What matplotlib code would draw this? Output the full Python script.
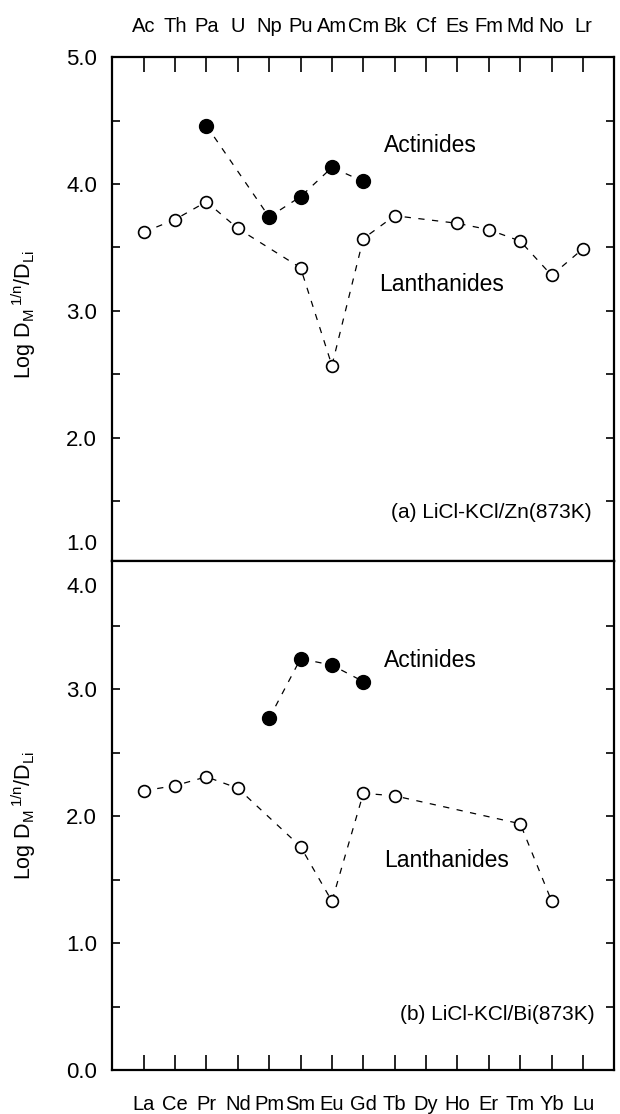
import matplotlib.pyplot as plt
import numpy as np

plt.rcParams['font.family'] = ['Liberation Sans', 'DejaVu Sans']
plt.rcParams['mathtext.fontset'] = 'custom'
plt.rcParams['mathtext.rm'] = 'Liberation Sans'
plt.rcParams['mathtext.it'] = 'Liberation Sans'
plt.rcParams['mathtext.bf'] = 'Liberation Sans:bold'

nan = np.nan
lanthanides = ['La', 'Ce', 'Pr', 'Nd', 'Pm', 'Sm', 'Eu', 'Gd', 'Tb', 'Dy',
               'Ho', 'Er', 'Tm', 'Yb', 'Lu']
actinides = ['Ac', 'Th', 'Pa', 'U', 'Np', 'Pu', 'Am', 'Cm', 'Bk', 'Cf',
             'Es', 'Fm', 'Md', 'No', 'Lr']

# (a) LiCl-KCl/Zn (873K)
zn_ln = [3.62, 3.72, 3.86, 3.65, nan, 3.34, 2.57, 3.57, 3.75, nan,
         3.69, 3.64, 3.55, 3.28, 3.49]
zn_an = [nan, nan, 4.46, nan, 3.74, 3.90, 4.13, 4.02, nan, nan,
         nan, nan, nan, nan, nan]
# (b) LiCl-KCl/Bi (873K)
bi_ln = [2.20, 2.24, 2.31, 2.22, nan, 1.76, 1.33, 2.18, 2.16, nan,
         nan, nan, 1.94, 1.33, nan]
bi_an = [nan, nan, nan, nan, 2.77, 3.24, 3.19, 3.06, nan, nan,
         nan, nan, nan, nan, nan]

ylab = r'Log D$_\mathrm{M}$$^{\mathrm{\,1/n}}$/D$_\mathrm{Li}$'
x = np.arange(len(lanthanides))

fig = plt.figure(figsize=(6.2, 11.14), dpi=100)
ax1 = fig.add_axes([0.181, 0.4964, 0.81, 0.4524])
ax2 = fig.add_axes([0.181, 0.0395, 0.81, 0.4569])


def draw(ax, ln, an):
    ln = np.array(ln)
    an = np.array(an)
    m = ~np.isnan(ln)
    ax.plot(x[m], ln[m], ls=(0, (5, 6)), lw=0.9, color='black', marker='o',
            ms=8.5, mfc='white', mec='black', mew=1.2)
    m = ~np.isnan(an)
    ax.plot(x[m], an[m], ls=(0, (5, 6)), lw=0.9, color='black', marker='o',
            ms=10, mfc='black', mec='black')
    ax.set_xlim(-1, 15)
    ax.set_xticks(x)
    ax.tick_params(axis='y', which='both', direction='in', left=True,
                   right=True, length=6, width=1.2, labelsize=16, pad=11)
    for s in ax.spines.values():
        s.set_linewidth(1.6)
    ax.set_ylabel(ylab, fontsize=15.5)


draw(ax1, zn_ln, zn_an)
ax1.set_ylim(1.03, 5.0)
ax1.set_yticks([2, 3, 4, 5])
ax1.set_yticklabels(['2.0', '3.0', '4.0', '5.0'])
ax1.set_yticks([1.5, 2.5, 3.5, 4.5], minor=True)
ax1.set_xticklabels(actinides)
ax1.tick_params(axis='x', direction='in', top=True, bottom=False,
                labeltop=True, labelbottom=False, length=11, width=1.2,
                labelsize=14.5, pad=15)
ax1.text(-0.03, 1.16, '1.0', transform=ax1.get_yaxis_transform(),
         ha='right', va='center', fontsize=16)
ax1.text(7.65, 4.30, 'Actinides', fontsize=16.5, va='center')
ax1.text(7.5, 3.21, 'Lanthanides', fontsize=16.5, va='center')
ax1.text(0.955, 0.096, '(a) LiCl-KCl/Zn(873K)', transform=ax1.transAxes,
         ha='right', va='center', fontsize=15)
ax1.yaxis.set_label_coords(-0.148, 0.49)

draw(ax2, bi_ln, bi_an)
ax2.set_ylim(0, 4.01)
ax2.set_yticks([0, 1, 2, 3])
ax2.set_yticklabels(['0.0', '1.0', '2.0', '3.0'])
ax2.set_yticks([0.5, 1.5, 2.5, 3.5], minor=True)
ax2.set_xticklabels(lanthanides)
ax2.tick_params(axis='x', direction='in', top=False, bottom=True,
                length=11, width=1.2, labelsize=14.5, pad=18)
ax2.text(-0.03, 3.80, '4.0', transform=ax2.get_yaxis_transform(),
         ha='right', va='center', fontsize=16)
ax2.text(7.65, 3.23, 'Actinides', fontsize=16.5, va='center')
ax2.text(7.65, 1.65, 'Lanthanides', fontsize=16.5, va='center')
ax2.text(0.96, 0.11, '(b) LiCl-KCl/Bi(873K)', transform=ax2.transAxes,
         ha='right', va='center', fontsize=15)
ax2.yaxis.set_label_coords(-0.148, 0.50)

fig.savefig('out.png', dpi=100)
